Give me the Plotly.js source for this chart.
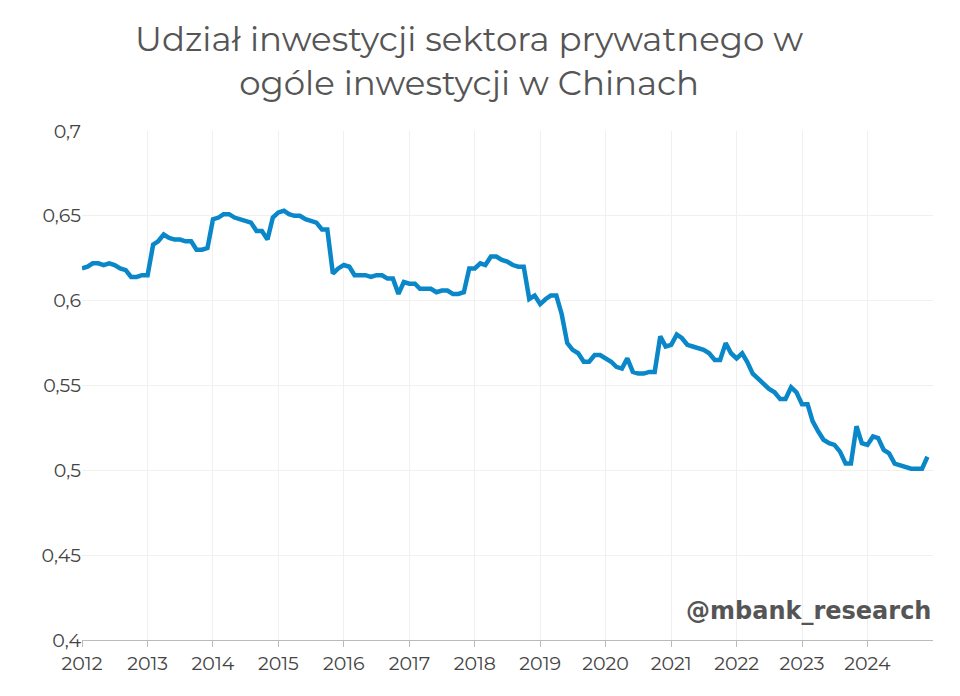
<!DOCTYPE html>
<html>
<head>
<meta charset="utf-8">
<script src="https://cdn.plot.ly/plotly-3.0.1.min.js"></script>
<style>html,body{margin:0;padding:0;background:#fff;}#chart{width:960px;height:696px;}</style>
</head>
<body>
<div id="chart"></div>
<script>
const startYear = 2012;
const shares = [
  0.619,0.620,0.622,0.622,0.621,0.622,0.621,0.619,0.618,0.614,0.614,0.615,
  0.615,0.633,0.635,0.639,0.637,0.636,0.636,0.635,0.635,0.630,0.630,0.631,
  0.648,0.649,0.651,0.651,0.649,0.648,0.647,0.646,0.641,0.641,0.636,0.649,
  0.652,0.653,0.651,0.650,0.650,0.648,0.647,0.646,0.642,0.642,0.616,0.619,
  0.621,0.620,0.615,0.615,0.615,0.614,0.615,0.615,0.613,0.613,0.604,0.611,
  0.610,0.610,0.607,0.607,0.607,0.605,0.606,0.606,0.604,0.604,0.605,0.619,
  0.619,0.622,0.621,0.626,0.626,0.624,0.623,0.621,0.620,0.620,0.601,0.603,
  0.598,0.601,0.603,0.603,0.592,0.575,0.571,0.569,0.564,0.564,0.568,0.568,
  0.566,0.564,0.561,0.560,0.566,0.558,0.557,0.557,0.558,0.558,0.579,0.573,
  0.574,0.580,0.578,0.574,0.573,0.572,0.571,0.569,0.565,0.565,0.575,0.569,
  0.566,0.569,0.564,0.557,0.554,0.551,0.548,0.546,0.542,0.542,0.549,0.546,
  0.539,0.539,0.529,0.523,0.518,0.516,0.515,0.511,0.504,0.504,0.526,0.516,
  0.515,0.520,0.519,0.512,0.510,0.504,0.503,0.502,0.501,0.501,0.501,0.508
];
const dates = shares.map((_, i) => {
  const y = startYear + Math.floor(i / 12), m = i % 12 + 1;
  return y + '-' + String(m).padStart(2, '0') + '-01';
});
const yTicks = [0.4,0.45,0.5,0.55,0.6,0.65,0.7];
const yLabels = ['0,4','0,45','0,5','0,55','0,6','0,65','0,7'];
const xTicks = [2012,2013,2014,2015,2016,2017,2018,2019,2020,2021,2022,2023,2024];

const font = 'Montserrat, Lato, "Open Sans", sans-serif';
Plotly.newPlot('chart', [{
  type:'scatter', mode:'lines', x:dates, y:shares,
  line:{color:'#0a87c9', width:4.5}, hoverinfo:'skip'
}], {
  width:960, height:696,
  margin:{l:82, r:27, t:131, b:56},
  paper_bgcolor:'#fff', plot_bgcolor:'#fff',
  font:{family:font, color:'#444'},
  xaxis:{type:'date', range:['2012-01-01','2025-01-01'],
    tickvals:xTicks.map(y => y + '-01-01'), ticktext:xTicks.map(String),
    showgrid:true, gridcolor:'#f0f0f0', showline:true, linecolor:'#bbb',
    ticks:'outside', ticklen:6, tickcolor:'#bbb', tickfont:{size:19, color:'#444'}},
  yaxis:{range:[0.4,0.7], tickvals:yTicks, ticktext:yLabels,
    showgrid:true, gridcolor:'#f0f0f0', zeroline:false, ticks:'',
    tickfont:{size:19, color:'#444'}},
  annotations:[
    {text:'Udział inwestycji sektora prywatnego w<br>ogóle inwestycji w Chinach',
      xref:'paper', yref:'paper', x:0.455, y:1.225, xanchor:'center', yanchor:'top',
      showarrow:false, font:{size:34, color:'#555', family:font}},
    {text:'<b>@mbank_research</b>', xref:'paper', yref:'paper',
      x:1, y:0.025, xanchor:'right', yanchor:'bottom', showarrow:false,
      font:{size:24, color:'#555', family:'"DejaVu Sans", sans-serif'}}],
  showlegend:false
}, {displayModeBar:false, staticPlot:true});
</script>
</body>
</html>
